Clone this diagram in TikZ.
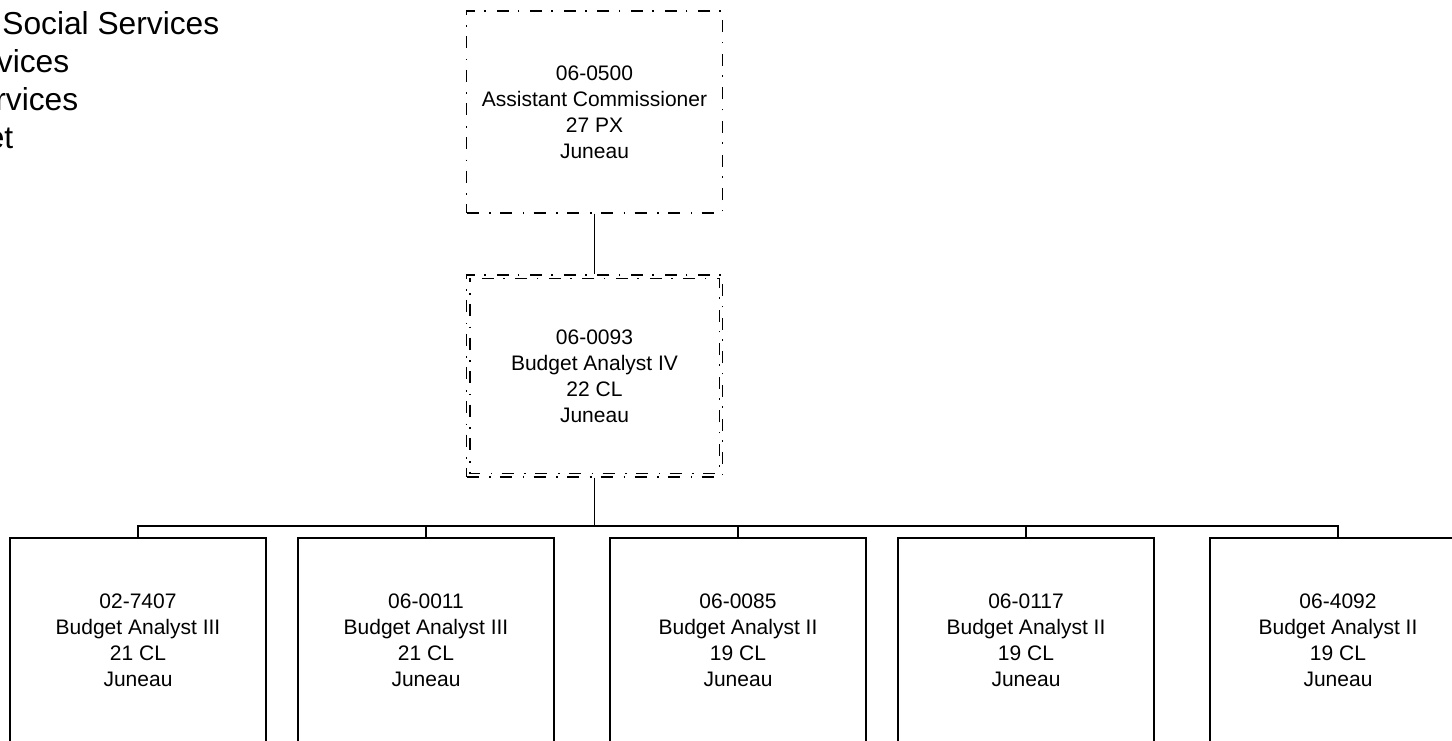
\documentclass[tikz,border=0pt]{standalone}
\usepackage{fontspec}
\setmainfont{Liberation Sans}
\usetikzlibrary{calc,positioning}

\begin{document}
\begin{tikzpicture}[x=0.75pt,y=-0.75pt,-,line width=1.1pt,
                    pos node/.style={rectangle,draw,line width=1pt,minimum width=192pt,minimum height=151.5pt,
                      align=center,inner sep=0pt,font=\fontsize{15.75}{19.5}\selectfont},
                    low node/.style={pos node,minimum height=156pt,text depth=3pt},
                    dashdot line/.style={dash pattern=on 9pt off 8pt on 1.2pt off 7pt},
                    head node/.style={anchor=base east,inner sep=0pt,font=\fontsize{23.8}{28.5}\selectfont}]

  \useasboundingbox (0,0) rectangle (1452,740);
  \clip (0,0) rectangle (1452,740);

  \node[head node] (h1) at (220,34) {Social Services};
  \node[head node] (h2) at (70,72) {vices};
  \node[head node] (h3) at (79,110) {rvices};
  \node[head node] (h4) at (14,148) {et};

  \node[pos node,dashdot line] (comm) at (594.5,112) {06-0500\\Assistant Commissioner\\27 PX\\Juneau};
  \node[pos node,dashdot line] (ba4) at (594.5,376) {06-0093\\Budget Analyst IV\\22 CL\\Juneau};
  \draw[line width=1pt,dashdot line,dash phase=6pt]
    ($(ba4.north west)+(4,4)$) rectangle ($(ba4.south east)+(-4,-4)$);

  \node[low node] (b1) at (138,642) {02-7407\\Budget Analyst III\\21 CL\\Juneau};
  \node[low node] (b2) at (426,642) {06-0011\\Budget Analyst III\\21 CL\\Juneau};
  \node[low node] (b3) at (738,642) {06-0085\\Budget Analyst II\\19 CL\\Juneau};
  \node[low node] (b4) at (1026,642) {06-0117\\Budget Analyst II\\19 CL\\Juneau};
  \node[low node] (b5) at (1338,642) {06-4092\\Budget Analyst II\\19 CL\\Juneau};

  \coordinate (bar) at (594.5,526);

  \draw (comm) -- (ba4);
  \draw (ba4) -- (bar);
  \foreach \n in {b1,b2,b3,b4,b5}
    \draw (\n.north) |- (bar);

\end{tikzpicture}
\end{document}
